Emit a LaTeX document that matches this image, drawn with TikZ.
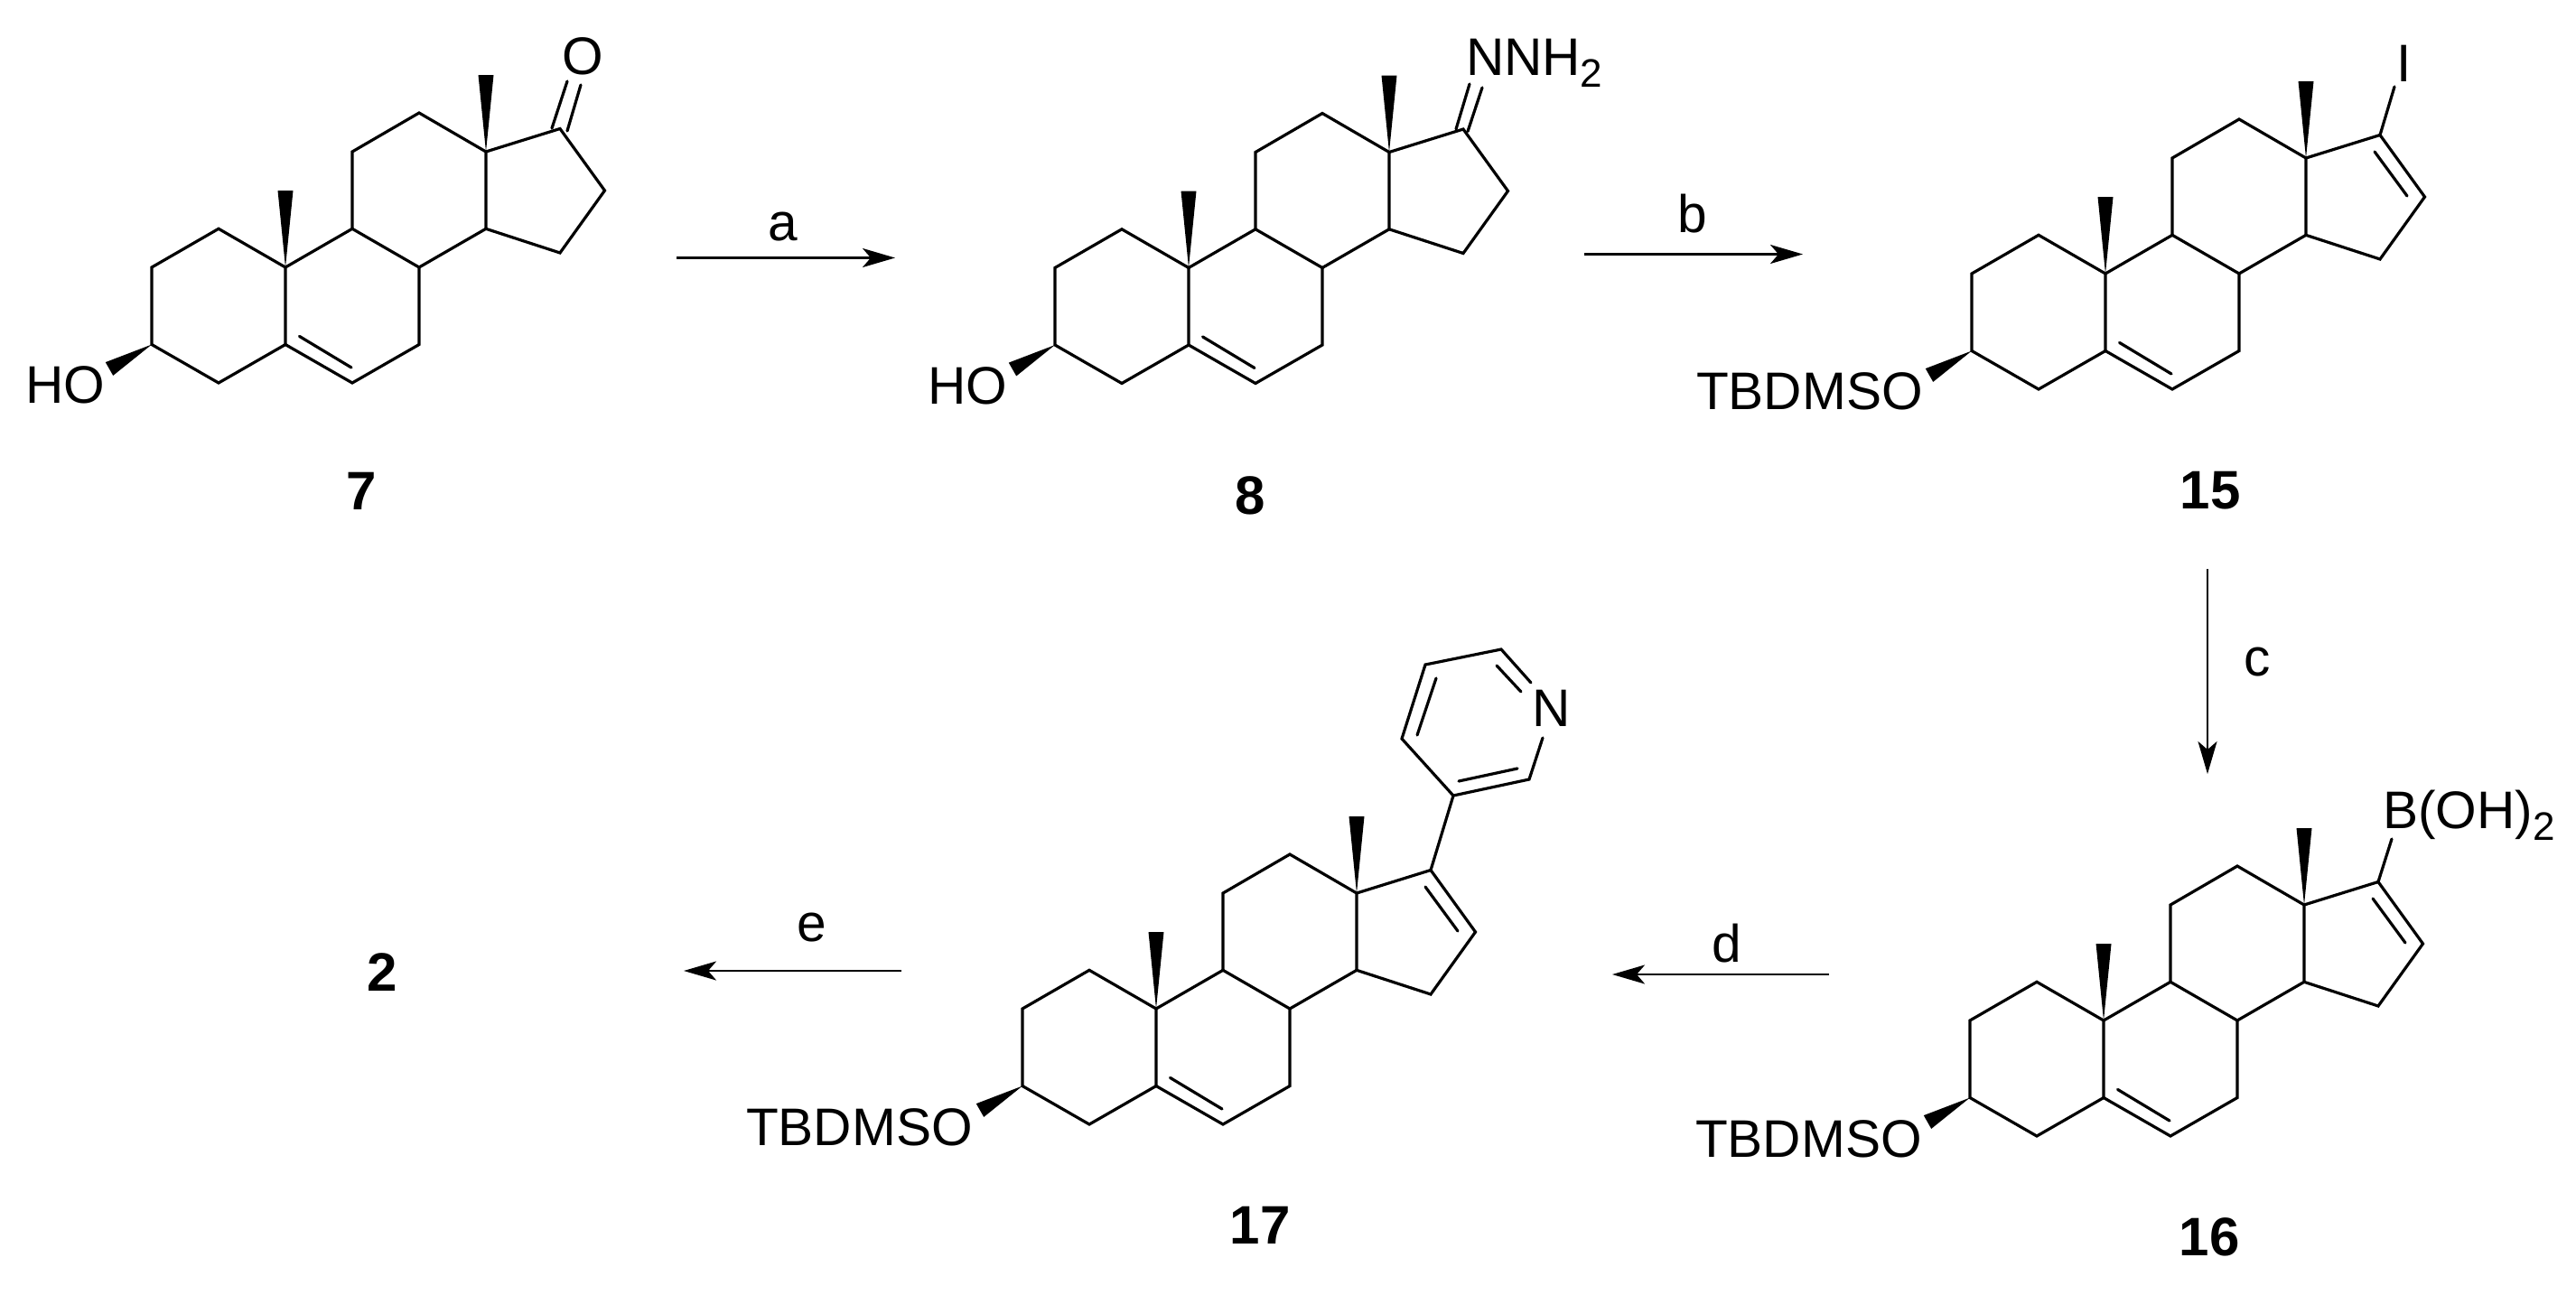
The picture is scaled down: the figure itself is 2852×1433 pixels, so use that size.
\documentclass[tikz,border=0pt]{standalone}
\usepackage{fontspec}
\setmainfont{Liberation Sans}
\usetikzlibrary{arrows.meta}
\tikzset{
  bond/.style={draw=black,line width=3.2pt,line join=miter,line cap=round},
  wedgebond/.style={fill=black,draw=none},
  rxn/.style={draw=black,line width=2.6pt,-{Stealth[length=36pt,width=21pt,inset=9pt]}},
  atomlabel/.style={inner sep=0pt,outer sep=0pt,font=\fontsize{58.6}{60}\selectfont},
  cmpd/.style={inner sep=0pt,outer sep=0pt,anchor=base,font=\fontsize{60}{62}\selectfont\bfseries},
}
\newcommand{\subtwo}{\raisebox{-13pt}{\fontsize{44}{44}\selectfont 2}}
% #1 prefix, #2 x, #3 y of ring-junction atom C10
\newcommand{\steroidcore}[3]{%
  \begin{scope}[shift={(#2,#3)}]
    \coordinate (#1c10) at (0,0);
    \coordinate (#1c5) at (0,85.5);
    \coordinate (#1c4) at (-74,128);
    \coordinate (#1c3) at (-148,85.5);
    \coordinate (#1c2) at (-148,0);
    \coordinate (#1c1) at (-74,-42.7);
    \coordinate (#1c6) at (74,128);
    \coordinate (#1c7) at (148,85.5);
    \coordinate (#1c8) at (148,0);
    \coordinate (#1c9) at (74,-42.7);
    \coordinate (#1c11) at (74,-128);
    \coordinate (#1c12) at (148,-171);
    \coordinate (#1c13) at (222,-128);
    \coordinate (#1c14) at (222,-42.7);
    \coordinate (#1c17) at (304,-153.5);
    \coordinate (#1c16) at (353.5,-85);
    \coordinate (#1c15) at (304,-16);
    \coordinate (#1db1) at (15.5,76.4);
    \coordinate (#1db2) at (73,111);
    \coordinate (#1m10a) at (-8.5,-85);
    \coordinate (#1m10b) at (8.5,-85);
    \coordinate (#1m13a) at (213.5,-213);
    \coordinate (#1m13b) at (230.5,-213);
    \coordinate (#1oa) at (-199.2,105.1);
    \coordinate (#1ob) at (-190.8,119.9);
    \draw[bond] (#1c10) -- (#1c1) -- (#1c2) -- (#1c3) -- (#1c4) -- (#1c5) -- cycle;
    \draw[bond] (#1c5) -- (#1c6) -- (#1c7) -- (#1c8) -- (#1c9) -- (#1c10);
    \draw[bond] (#1c9) -- (#1c11) -- (#1c12) -- (#1c13) -- (#1c14) -- (#1c8);
    \draw[bond] (#1c13) -- (#1c17) -- (#1c16) -- (#1c15) -- (#1c14);
    \draw[bond] (#1db1) -- (#1db2);
    \fill[wedgebond] (#1c10) -- (#1m10a) -- (#1m10b) -- cycle;
    \fill[wedgebond] (#1c13) -- (#1m13a) -- (#1m13b) -- cycle;
    \fill[wedgebond] (#1c3) -- (#1oa) -- (#1ob) -- cycle;
  \end{scope}}
% ring double bond C16=C17
\newcommand{\enebond}[3]{%
  \begin{scope}[shift={(#2,#3)}]
    \coordinate (#1ea) at (298,-135);
    \coordinate (#1eb) at (334,-86);
    \draw[bond] (#1ea) -- (#1eb);
  \end{scope}}
\begin{document}
\begin{tikzpicture}[x=1pt,y=-1pt]
\path[use as bounding box,fill=white] (0,0) rectangle (2852,1433);

% compound 7
\steroidcore{a}{316}{296}
\coordinate (ao1) at (611,142); \coordinate (ao2) at (628,90);
\coordinate (ao3) at (628,145); \coordinate (ao4) at (643,94);
\draw[bond] (ao1) -- (ao2);
\draw[bond] (ao3) -- (ao4);
\node[atomlabel,anchor=base] (aO) at (645,82) {O};
\node[atomlabel,anchor=base west] (aHO) at (28,446) {HO};
\node[cmpd] (n7) at (400,564) {7};

% compound 8
\steroidcore{b}{1316}{296.5}
\coordinate (bn1) at (1612,143); \coordinate (bn2) at (1627,93);
\coordinate (bn3) at (1625,145.5); \coordinate (bn4) at (1641,97);
\draw[bond] (bn1) -- (bn2);
\draw[bond] (bn3) -- (bn4);
\node[atomlabel,anchor=base west] (bN) at (1623,83) {NNH\subtwo};
\node[atomlabel,anchor=base west] (bHO) at (1027,447) {HO};
\node[cmpd] (n8) at (1384,569) {8};

% compound 15
\steroidcore{c}{2331}{303}
\enebond{c}{2331}{303}
\coordinate (cibond) at (2651,96);
\draw[bond] (cc17) -- (cibond);
\node[atomlabel,anchor=base west] (cI) at (2653,90) {I};
\node[atomlabel,anchor=base west] (cO) at (1878,453) {TBDMSO};
\node[cmpd] (n15) at (2447,563) {15};

% compound 16
\steroidcore{d}{2329}{1130}
\enebond{d}{2329}{1130}
\coordinate (dbbond) at (2648,929);
\draw[bond] (dc17) -- (dbbond);
\node[atomlabel,anchor=base west] (dB) at (2638,917) {B(OH)\subtwo};
\node[atomlabel,anchor=base west] (dO) at (1877,1281) {TBDMSO};
\node[cmpd] (n16) at (2446,1390) {16};

% compound 17
\steroidcore{e}{1280}{1117}
\enebond{e}{1280}{1117}
\coordinate (p3) at (1609,881);
\coordinate (p4) at (1552,818);
\coordinate (p5) at (1578,736);
\coordinate (p6) at (1662,719);
\coordinate (pn1) at (1695,756);
\coordinate (pn2) at (1708,817);
\coordinate (p2) at (1693,863);
\coordinate (pi1) at (1590,751); \coordinate (pi2) at (1569,814);
\coordinate (pi3) at (1657,737); \coordinate (pi4) at (1684,766);
\coordinate (pi5) at (1615,865); \coordinate (pi6) at (1680,851);
\draw[bond] (ec17) -- (p3);
\draw[bond] (pn1) -- (p6) -- (p5) -- (p4) -- (p3) -- (p2) -- (pn2);
\draw[bond] (pi1) -- (pi2);
\draw[bond] (pi3) -- (pi4);
\draw[bond] (pi5) -- (pi6);
\node[atomlabel,anchor=base] (pN) at (1718,804) {N};
\node[atomlabel,anchor=base west] (eO) at (826,1268) {TBDMSO};
\node[cmpd] (n17) at (1395,1377) {17};

% compound 2
\node[cmpd] (n2) at (423,1097) {2};

% reaction arrows
\coordinate (ra1) at (749,285.5); \coordinate (ra2) at (991,285.5);
\draw[rxn] (ra1) -- (ra2);
\node[atomlabel,anchor=base] (la) at (867,266) {a};
\coordinate (rb1) at (1754,281.5); \coordinate (rb2) at (1996,281.5);
\draw[rxn] (rb1) -- (rb2);
\node[atomlabel,anchor=base] (lb) at (1874,257) {b};
\coordinate (rc1) at (2444,630); \coordinate (rc2) at (2444,857);
\draw[rxn] (rc1) -- (rc2);
\node[atomlabel,anchor=base] (lc) at (2499,748) {c};
\coordinate (rd1) at (2025,1079); \coordinate (rd2) at (1785,1079);
\draw[rxn] (rd1) -- (rd2);
\node[atomlabel,anchor=base] (ld) at (1912,1065) {d};
\coordinate (re1) at (998,1075); \coordinate (re2) at (757,1075);
\draw[rxn] (re1) -- (re2);
\node[atomlabel,anchor=base] (le) at (899,1042) {e};
\end{tikzpicture}
\end{document}
